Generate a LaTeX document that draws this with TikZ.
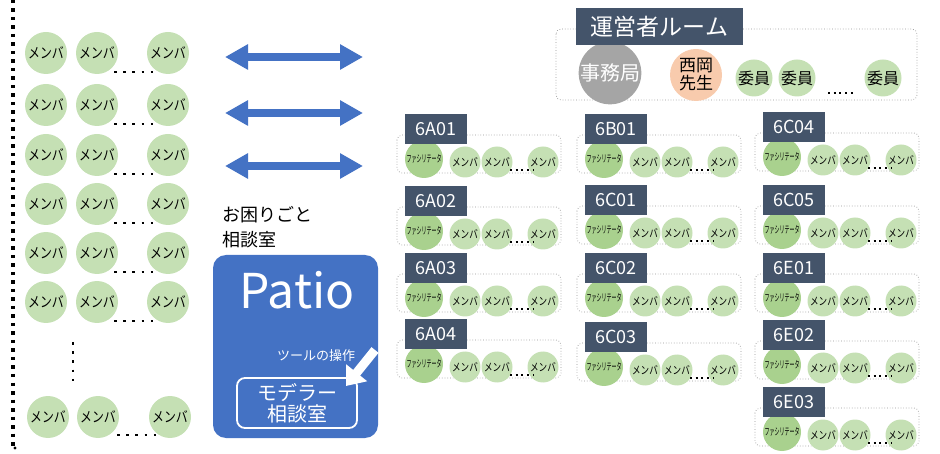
\documentclass[tikz,border=0pt]{standalone}
\usepackage{fontspec}
\usepackage{graphicx}
\setmainfont{Noto Sans CJK JP}
\usetikzlibrary{arrows.meta}
\definecolor{mem}{HTML}{C5E0B4}
\definecolor{fac}{HTML}{A9D18E}
\definecolor{slate}{HTML}{44546A}
\definecolor{pblue}{HTML}{4472C4}
\definecolor{jgray}{HTML}{A5A5A5}
\definecolor{salmon}{HTML}{F8CBAD}
\newcommand\bigtxt{\scalebox{0.82}[1]{メンバ}}
\newcommand\smtxt{\scalebox{0.78}[1]{メンバ}}
\newcommand\factxt{\scalebox{0.5}[1]{ファシリテータ}}
\tikzset{
  bigmem/.style={circle, fill=mem, minimum size=42pt, inner sep=0pt, font=\fontsize{14.5}{14.5}\selectfont},
  smem/.style={circle, fill=mem, minimum size=31pt, inner sep=0pt, font=\fontsize{11}{11}\selectfont},
  facc/.style={circle, fill=fac, minimum size=38pt, inner sep=0pt, font=\fontsize{10}{10}\selectfont},
  lbl/.style={fill=slate, text=white, minimum width=62pt, minimum height=30pt, inner sep=0pt, font=\fontsize{18}{18}\selectfont},
  grpbox/.style={draw=gray!85, line width=0.7pt, dotted, rounded corners=5pt},
  rowdots/.style={line width=2.6pt, dash pattern=on 2.6pt off 6.6pt},
  gdots/.style={line width=2pt, dash pattern=on 2pt off 3.7pt},
  bigarrow/.style={pblue, line width=8pt, {Triangle[length=23pt,width=24pt]}-{Triangle[length=23pt,width=24pt]}},
  iin/.style={circle, fill=mem, minimum size=37pt, inner sep=0pt, font=\fontsize{16}{16}\selectfont},
}
\newcommand\grp[4]{%
  \draw[grpbox] (#1,#2+21) rectangle (#1+164,#2+59);
  \node[facc] (#4f) at (#1+27,#2+45) {\factxt};
  \node[smem] (#4a) at (#1+68,#2+48) {\smtxt};
  \node[smem] (#4b) at (#1+100,#2+48) {\smtxt};
  \node[smem] (#4c) at (#1+146,#2+48) {\smtxt};
  \draw[gdots] (#1+113,#2+56) -- (#1+137,#2+56);
  \node[lbl] (#4) at (#1+39,#2+15) {#3};
}
\begin{document}
\begin{tikzpicture}[x=1pt,y=-1pt]
\useasboundingbox (0,0) rectangle (940,454);
% left dotted border
\draw[line width=3.5pt, dash pattern=on 3.5pt off 5pt] (13,0) -- (13,447);
\fill (15,448) circle (1.6pt);
% left members
\foreach \y [count=\r] in {53,105,155,204,253,302} {
  \node[bigmem] (L\r a) at (46,\y) {\bigtxt};
  \node[bigmem] (L\r b) at (97,\y) {\bigtxt};
  \node[bigmem] (L\r c) at (168,\y) {\bigtxt};
  \draw[rowdots] (114,\y+19) -- (153.5,\y+19);
}
\draw[line width=2.6pt, dash pattern=on 2.6pt off 6.6pt] (73,342) -- (73,381.5);
\node[bigmem] (L7a) at (48,417) {\bigtxt};
\node[bigmem] (L7b) at (98,417) {\bigtxt};
\node[bigmem] (L7c) at (170,417) {\bigtxt};
\draw[rowdots] (117,435) -- (156.5,435);
% arrows
\coordinate (a1l) at (225,57); \coordinate (a1r) at (363,57);
\coordinate (a2l) at (225,113); \coordinate (a2r) at (363,113);
\coordinate (a3l) at (225,166); \coordinate (a3r) at (363,166);
\draw[bigarrow] (a1l) -- (a1r);
\draw[bigarrow] (a2l) -- (a2r);
\draw[bigarrow] (a3l) -- (a3r);
% Patio
\node[anchor=west, align=left, inner sep=0pt, font=\fontsize{18}{25}\selectfont] (help) at (222,227) {お困りごと\\相談室};
\node[fill=pblue, rounded corners=13pt, minimum width=165pt, minimum height=183pt, inner sep=0pt] (patio) at (295.5,346.5) {};
\node[text=white, inner sep=0pt, font=\fontsize{48}{48}\selectfont] (patiot) at (297,290) {Patio};
\node[text=white, inner sep=0pt, font=\fontsize{13}{13}\selectfont] (tool) at (316,356) {ツールの操作};
\node[draw=white, line width=1.8pt, rounded corners=8pt, minimum width=120pt, minimum height=50pt, align=center, text=white, inner sep=0pt, font=\fontsize{20}{21}\selectfont] (mod) at (297,403) {モデラー\\相談室};
\coordinate (wt) at (375,350);
\coordinate (wtip) at (346,386);
\draw[white, line width=9pt, -{Triangle[length=17pt,width=26pt]}] (wt) -- (wtip);
% operator room
\draw[grpbox] (556,29) rectangle (917,100);
\node[circle, fill=jgray, minimum size=62pt, inner sep=0pt, text=white, font=\fontsize{20}{20}\selectfont] (jim) at (610,73) {事務局};
\node[circle, fill=salmon, minimum size=52pt, inner sep=0pt, align=center, font=\fontsize{17}{18}\selectfont] (nis) at (696,75) {西岡\\先生};
\node[iin] (i1) at (754,78) {委員};
\node[iin] (i2) at (797,78) {委員};
\node[iin] (i3) at (883,78) {委員};
\draw[gdots] (828,93) -- (856,93);
\node[fill=slate, text=white, minimum width=167pt, minimum height=37pt, inner sep=0pt, font=\fontsize{23}{23}\selectfont] (room) at (659.5,26.5) {運営者ルーム};
% groups
\grp{397}{114}{6A01}{gA1}
\grp{397}{186}{6A02}{gA2}
\grp{397}{253}{6A03}{gA3}
\grp{397}{319}{6A04}{gA4}
\grp{577}{114}{6B01}{gB1}
\grp{577}{185}{6C01}{gB2}
\grp{577}{253}{6C02}{gB3}
\grp{577}{322}{6C03}{gB4}
\grp{755}{112}{6C04}{gC1}
\grp{755}{185}{6C05}{gC2}
\grp{755}{253}{6E01}{gC3}
\grp{755}{320}{6E02}{gC4}
\grp{755}{387}{6E03}{gC5}
\end{tikzpicture}
\end{document}
